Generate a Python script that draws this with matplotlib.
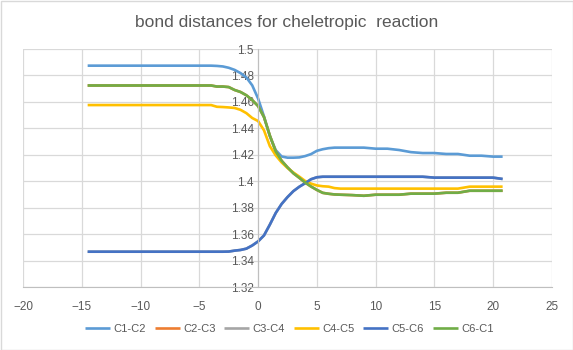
import matplotlib
matplotlib.use("Agg")
import matplotlib.pyplot as plt
from matplotlib.patches import Rectangle

# ---- data ----
x = [-14.5, -4, -3.5, -3, -2.5, -2, -1.5, -1, -0.5, 0, 0.5, 1, 1.5, 2, 2.5, 3, 3.5, 4,
     4.5, 5, 5.5, 6, 6.5, 7, 8, 9, 10, 11, 12, 13, 14, 15, 16, 17, 18, 19, 20, 20.8]

c1_c2 = [1.4874, 1.4874, 1.4872, 1.4868, 1.4858, 1.4842, 1.4818, 1.4785, 1.4725, 1.4625,
         1.4490, 1.4340, 1.4235, 1.4187, 1.4178, 1.4178, 1.4180, 1.4190, 1.4205, 1.4230,
         1.4242, 1.4250, 1.4254, 1.4254, 1.4254, 1.4254, 1.4246, 1.4246, 1.4236, 1.4220,
         1.4213, 1.4213, 1.4206, 1.4206, 1.4193, 1.4193, 1.4186, 1.4186]

c6_c1 = [1.4724, 1.4724, 1.4716, 1.4716, 1.4712, 1.4690, 1.4675, 1.4650, 1.4614, 1.4568,
         1.4485, 1.4345, 1.4225, 1.4155, 1.4105, 1.4060, 1.4026, 1.3990, 1.3960, 1.3934,
         1.3912, 1.3905, 1.3900, 1.3898, 1.3895, 1.3890, 1.3898, 1.3898, 1.3898, 1.3906,
         1.3906, 1.3906, 1.3913, 1.3913, 1.3928, 1.3928, 1.3928, 1.3928]

c4_c5 = [1.4576, 1.4576, 1.4563, 1.4561, 1.4558, 1.4554, 1.4540, 1.4515, 1.4478, 1.4455,
         1.4385, 1.4265, 1.4195, 1.4142, 1.4100, 1.4066, 1.4035, 1.4002, 1.3982, 1.3968,
         1.3962, 1.3959, 1.3948, 1.3944, 1.3944, 1.3944, 1.3944, 1.3944, 1.3944, 1.3944,
         1.3944, 1.3944, 1.3944, 1.3944, 1.3959, 1.3959, 1.3959, 1.3959]

c5_c6 = [1.3467, 1.3467, 1.3467, 1.3467, 1.3468, 1.3475, 1.3480, 1.3490, 1.3514, 1.3545,
         1.3590, 1.3672, 1.3760, 1.3828, 1.3880, 1.3925, 1.3958, 1.3985, 1.4015, 1.4030,
         1.4034, 1.4034, 1.4034, 1.4034, 1.4034, 1.4034, 1.4034, 1.4034, 1.4034, 1.4034,
         1.4034, 1.4027, 1.4027, 1.4027, 1.4027, 1.4027, 1.4027, 1.4017]

# hidden series (coincide with symmetric bonds, drawn underneath)
c2_c3 = list(c6_c1)
c3_c4 = list(c5_c6)

labels = ["C1-C2", "C2-C3", "C3-C4", "C4-C5", "C5-C6", "C6-C1"]
colors = ["#5B9BD5", "#ED7D31", "#A5A5A5", "#FFC000", "#4472C4", "#70AD47"]
title = "bond distances for cheletropic  reaction"
xticks = [-20, -15, -10, -5, 0, 5, 10, 15, 20, 25]
yticks = [1.32, 1.34, 1.36, 1.38, 1.40, 1.42, 1.44, 1.46, 1.48, 1.50]
ytick_labels = ["1.32", "1.34", "1.36", "1.38", "1.4", "1.42", "1.44", "1.46", "1.48", "1.5"]

# ---- plot ----
plt.rcParams['font.family'] = ['Liberation Sans', 'DejaVu Sans']
txt = "#595959"
fig = plt.figure(figsize=(5.73, 3.5), dpi=100)
ax = fig.add_axes([23/573, 1-287/350, (552-23)/573, (287-49)/350])

series = [c1_c2, c2_c3, c3_c4, c4_c5, c5_c6, c6_c1]
for s, lab, col in zip(series, labels, colors):
    ax.plot(x, s, color=col, lw=1.9, label=lab, solid_capstyle='butt')

ax.set_xlim(-20, 25)
ax.set_ylim(1.32, 1.50)
ax.set_xticks(xticks)
ax.set_yticks(yticks)
ax.set_yticklabels(ytick_labels)
ax.grid(True, color="#D9D9D9", lw=0.9)
ax.set_axisbelow(True)
for sp in ["top", "right"]:
    ax.spines[sp].set_visible(False)
ax.spines['left'].set_position(('data', 0))
ax.spines['left'].set_color("#BFBFBF")
ax.spines['bottom'].set_color("#BFBFBF")
ax.tick_params(length=0, labelsize=8.5, colors=txt)
ax.tick_params(axis='x', pad=10)
ax.tick_params(axis='y', pad=3)

fig.text(0.5, 1-23/350, title, ha='center', va='center', fontsize=12.5, color=txt)
leg = fig.legend(loc='center', bbox_to_anchor=(0.505, 1-329/350), ncol=6, frameon=False,
                 fontsize=8, handlelength=2.25, columnspacing=0.8, handletextpad=0.3)
for t in leg.get_texts():
    t.set_color(txt)

fig.patches.append(Rectangle((0.5/573, 0.5/350), 1-1/573, 1-1/350, transform=fig.transFigure,
                             fill=False, edgecolor="#D9D9D9", lw=1))
fig.savefig("out.png", dpi=100, facecolor="white")
